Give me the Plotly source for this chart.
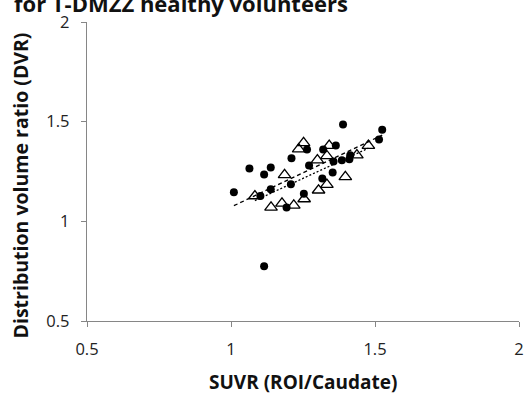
import numpy as np
import plotly.graph_objects as go

# Filled circles series
circ_x = [1.010, 1.064, 1.115, 1.138, 1.102, 1.138, 1.210, 1.208, 1.193, 1.115,
          1.264, 1.271, 1.253, 1.320, 1.364, 1.389, 1.317, 1.353, 1.356, 1.385,
          1.411, 1.414, 1.514, 1.525]
circ_y = [1.146, 1.265, 1.235, 1.270, 1.127, 1.161, 1.317, 1.186, 1.069, 0.775,
          1.360, 1.280, 1.139, 1.360, 1.380, 1.486, 1.215, 1.245, 1.300, 1.307,
          1.312, 1.332, 1.411, 1.459]

# Open triangles series
tri_x = [1.083, 1.139, 1.177, 1.218, 1.186, 1.235, 1.252, 1.254, 1.300, 1.304,
         1.333, 1.333, 1.341, 1.397, 1.437, 1.477]
tri_y = [1.127, 1.070, 1.090, 1.080, 1.233, 1.362, 1.394, 1.112, 1.307, 1.156,
         1.184, 1.328, 1.380, 1.223, 1.332, 1.380]

tick_vals = [0.5, 1, 1.5, 2]
tick_text = ["0.5", "1", "1.5", "2"]

title_text = "for T-DMZZ healthy volunteers"
x_title = "SUVR (ROI/Caudate)"
y_title = "Distribution volume ratio (DVR)"

FONT = "Open Sans"

fig = go.Figure()

def fit_line(xs, ys):
    xs = np.array(xs); ys = np.array(ys)
    m, b = np.polyfit(xs, ys, 1)
    lx = np.array([xs.min(), xs.max()])
    return lx, m * lx + b

cx, cy = fit_line(circ_x, circ_y)
tx, ty = fit_line(tri_x, tri_y)

fig.add_trace(go.Scatter(x=cx, y=cy, mode="lines",
                         line=dict(color="black", width=1.3, dash="4px,3px"),
                         showlegend=False, hoverinfo="skip"))
fig.add_trace(go.Scatter(x=tx, y=ty, mode="lines",
                         line=dict(color="black", width=1.3, dash="2px,2px"),
                         showlegend=False, hoverinfo="skip"))

fig.add_trace(go.Scatter(x=circ_x, y=circ_y, mode="markers",
                         marker=dict(symbol="circle", size=8, color="black"),
                         showlegend=False))
fig.add_trace(go.Scatter(x=tri_x, y=tri_y, mode="markers",
                         marker=dict(symbol="triangle-up-open", size=11,
                                     color="black", line=dict(width=1.3, color="black")),
                         showlegend=False))

axis_common = dict(range=[0.5, 2], tickvals=tick_vals, ticktext=tick_text,
                   showgrid=False, zeroline=False, showline=True,
                   linecolor="#868686", linewidth=1.3,
                   ticks="outside", ticklen=5, tickcolor="#868686", tickwidth=1.3,
                   tickfont=dict(family=FONT, size=16.5, color="#222222"))

fig.update_layout(
    width=531, height=393,
    margin=dict(l=87, r=7, t=22, b=72),
    paper_bgcolor="white", plot_bgcolor="white",
    xaxis=dict(**axis_common, ticklabelstandoff=8),
    yaxis=dict(**axis_common, ticklabelstandoff=8),
    font=dict(family=FONT),
)

fig.add_annotation(text="<b>" + x_title + "</b>", xref="paper", yref="paper",
                   x=0.5, y=-0.204, yanchor="middle", xanchor="center", showarrow=False,
                   font=dict(family=FONT, size=19, color="#111111"))
fig.add_annotation(text="<b>" + y_title + "</b>", xref="paper", yref="paper",
                   x=-0.153, y=0.453, textangle=-90, xanchor="center", yanchor="middle",
                   showarrow=False,
                   font=dict(family=FONT, size=19.5, color="#111111"))
fig.add_annotation(text="<b>" + title_text + "</b>", xref="paper", yref="paper",
                   x=0.608, y=1.062, xanchor="right", yanchor="middle", showarrow=False,
                   font=dict(family=FONT, size=22, color="#111111"))

fig.write_html("out.html", config={"displayModeBar": False},
               post_script="document.body.style.margin='0px';")
